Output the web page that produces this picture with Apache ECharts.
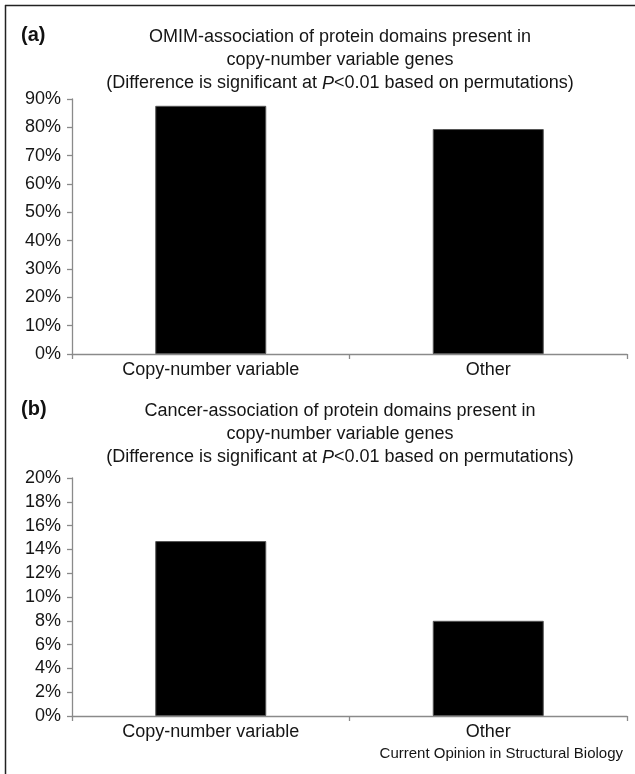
<!DOCTYPE html>
<html>
<head>
<meta charset="utf-8">
<script src="https://cdn.jsdelivr.net/npm/echarts@6/dist/echarts.min.js"></script>
<style>
html,body{margin:0;padding:0;background:#fff;}
#chart{width:635px;height:774px;}
</style>
</head>
<body>
<div id="chart"></div>
<script>
// Data
var categories = ['Copy-number variable', 'Other'];
var omimValues = [87.6, 79.4];      // % (panel a)
var cancerValues = [14.7, 8.0];     // % (panel b)
var omimTicks = {min: 0, max: 90, interval: 10};
var cancerTicks = {min: 0, max: 20, interval: 2};
var titleA = ['OMIM-association of protein domains present in', 'copy-number variable genes', '(Difference is significant at {i|P}<0.01 based on permutations)'];
var titleB = ['Cancer-association of protein domains present in', 'copy-number variable genes', '(Difference is significant at {i|P}<0.01 based on permutations)'];
var footer = 'Current Opinion in Structural Biology';

var FONT = '"Liberation Sans", Arial, Helvetica, sans-serif';
var axisColor = '#8a8a8a';

function titleObj(lines, top) {
  return {
    text: lines.join('\n'),
    left: 340,
    top: top,
    textAlign: 'center',
    padding: 0,
    textStyle: {
      fontFamily: FONT, fontSize: 18, fontWeight: 'normal', color: '#151515', lineHeight: 23,
      rich: { i: { fontFamily: FONT, fontSize: 18, fontStyle: 'italic', color: '#151515', lineHeight: 23 } }
    }
  };
}
function panelLabel(t, top) {
  return { text: t, left: 21, top: top, padding: 0,
    textStyle: { fontFamily: FONT, fontSize: 20, fontWeight: 'bold', color: '#111' } };
}
function xAxis(idx) {
  return {
    type: 'category', gridIndex: idx, data: categories,
    axisLine: { lineStyle: { color: axisColor, width: 1.3 } },
    axisTick: { show: true, length: 5, lineStyle: { color: axisColor, width: 1.3 } },
    axisLabel: { fontFamily: FONT, fontSize: 18, color: '#151515', margin: 7 }
  };
}
function yAxis(idx, t) {
  return {
    type: 'value', gridIndex: idx, min: t.min, max: t.max, interval: t.interval,
    splitLine: { show: false },
    axisLine: { show: true, lineStyle: { color: axisColor, width: 1.3 } },
    axisTick: { show: true, length: 5, lineStyle: { color: axisColor, width: 1.3 } },
    axisLabel: { fontFamily: FONT, fontSize: 18, color: '#151515', margin: 11, formatter: '{value}%' }
  };
}
var barStyle = { color: '#000', borderColor: '#555', borderWidth: 1 };

var chart = echarts.init(document.getElementById('chart'), null, { renderer: 'canvas' });
chart.setOption({
  backgroundColor: '#fff',
  animation: false,
  title: [
    titleObj(titleA, 26),
    panelLabel('(a)', 25),
    titleObj(titleB, 400),
    panelLabel('(b)', 399),
    { text: footer, right: 12, top: 746, padding: 0,
      textStyle: { fontFamily: FONT, fontSize: 15, fontWeight: 'normal', color: '#151515' } }
  ],
  grid: [
    { left: 72, right: 8, top: 99, height: 255 },
    { left: 72, right: 8, top: 478, height: 238 }
  ],
  xAxis: [xAxis(0), xAxis(1)],
  yAxis: [yAxis(0, omimTicks), yAxis(1, cancerTicks)],
  series: [
    { type: 'bar', xAxisIndex: 0, yAxisIndex: 0, data: omimValues, barWidth: '40%', itemStyle: barStyle },
    { type: 'bar', xAxisIndex: 1, yAxisIndex: 1, data: cancerValues, barWidth: '40%', itemStyle: barStyle }
  ],
  graphic: [
    { type: 'line', shape: { x1: 5, y1: 5.5, x2: 635, y2: 5.5 }, style: { stroke: '#222', lineWidth: 1.5 } },
    { type: 'line', shape: { x1: 5.5, y1: 5, x2: 5.5, y2: 774 }, style: { stroke: '#222', lineWidth: 1.5 } }
  ]
});
</script>
</body>
</html>
